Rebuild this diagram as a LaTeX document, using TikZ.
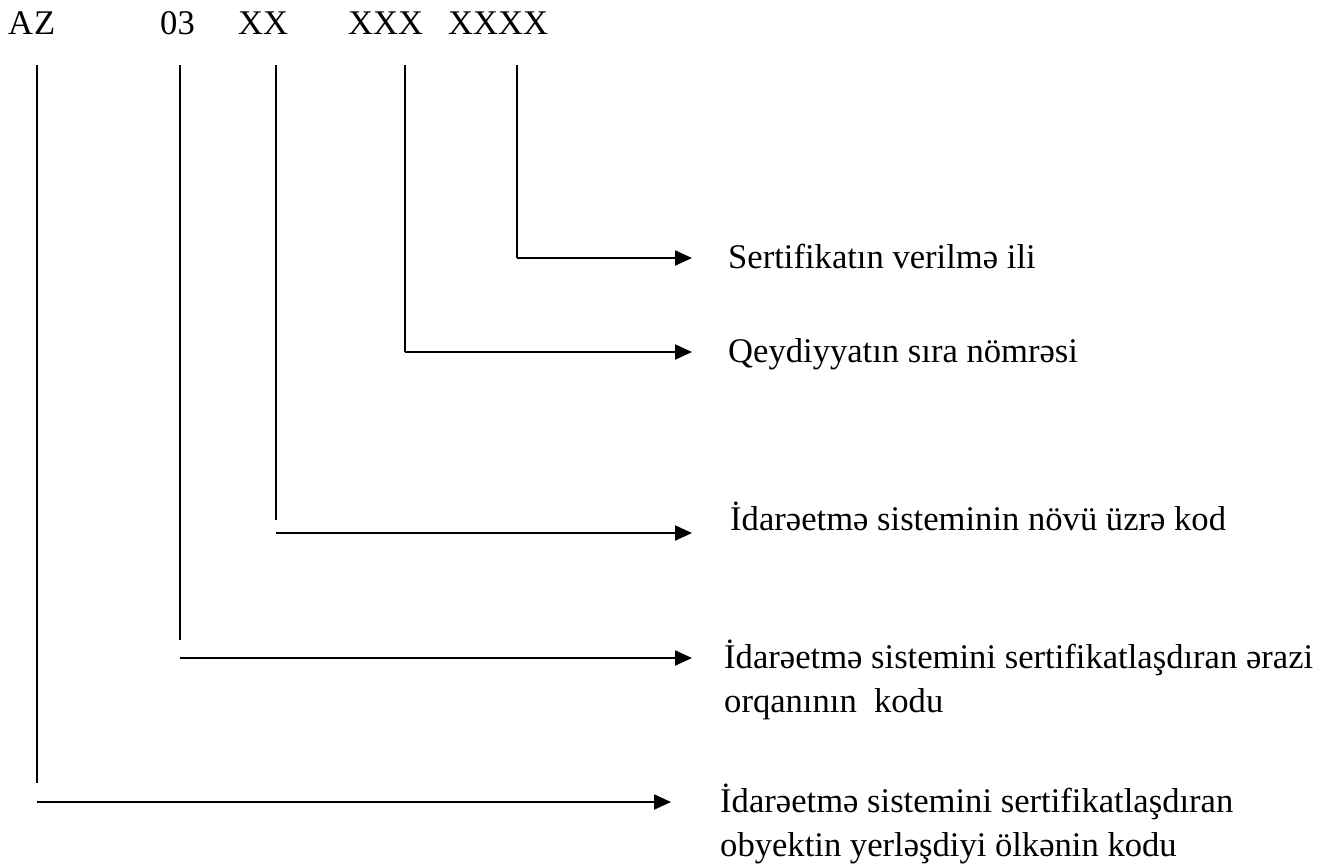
\documentclass[tikz,border=0pt]{standalone}
\usepackage{fontspec}
\setmainfont{Liberation Serif}
\usetikzlibrary{arrows.meta}
\tikzset{
  txt/.style={inner sep=0pt, anchor=base west, font=\fontsize{34.6}{40}\selectfont},
  vline/.style={line width=1.2pt, draw=black},
  harrow/.style={line width=2.2pt, draw=black, -{Triangle[length=17pt,width=15pt]}},
}
\begin{document}
\begin{tikzpicture}[x=1pt,y=-1pt]
\useasboundingbox (0,0) rectangle (1332,867);
% top code
\node[txt] (cA) at (8,35) {A};
\node[txt] (cZ) at (34,35) {Z};
\node[txt] (c03) at (160,35) {03};
\node[txt] (cXX) at (238,35) {XX};
\node[txt] (cXXX) at (348,35) {XXX};
\node[txt] (cXXXX) at (448,35) {XXXX};
% labels
\node[txt] (l1) at (728,268) {Sertifikatın verilmə ili};
\node[txt] (l2) at (728,362) {Qeydiyyatın sıra nömrəsi};
\node[txt] (l3) at (730,530) {İdarəetmə sisteminin növü üzrə kod};
\node[txt] (l4a) at (724,668) {İdarəetmə sistemini sertifikatlaşdıran ərazi};
\node[txt] (l4b) at (724,712) {orqanının\ \ kodu};
\node[txt] (l5a) at (720,812) {İdarəetmə sistemini sertifikatlaşdıran};
\node[txt] (l5b) at (720,856) {obyektin yerləşdiyi ölkənin kodu};
% coordinates
\coordinate (t5) at (517,65);  \coordinate (k5) at (517,258); \coordinate (e5) at (692,258);
\coordinate (t4) at (405,65);  \coordinate (k4) at (405,352); \coordinate (e4) at (692,352);
\coordinate (t3) at (276,65);  \coordinate (b3) at (276,520); \coordinate (s3) at (276,533); \coordinate (e3) at (692,533);
\coordinate (t2) at (180,65);  \coordinate (b2) at (180,640); \coordinate (s2) at (180,658); \coordinate (e2) at (692,658);
\coordinate (t1) at (37,65);   \coordinate (b1) at (37,783);  \coordinate (s1) at (37,802);  \coordinate (e1) at (671,802);
% connectors
\draw[vline] (t5) -- (k5);
\draw[harrow] (k5) -- (e5);
\draw[vline] (t4) -- (k4);
\draw[harrow] (k4) -- (e4);
\draw[vline] (t3) -- (b3);
\draw[harrow] (s3) -- (e3);
\draw[vline] (t2) -- (b2);
\draw[harrow] (s2) -- (e2);
\draw[vline] (t1) -- (b1);
\draw[harrow] (s1) -- (e1);
\end{tikzpicture}
\end{document}
